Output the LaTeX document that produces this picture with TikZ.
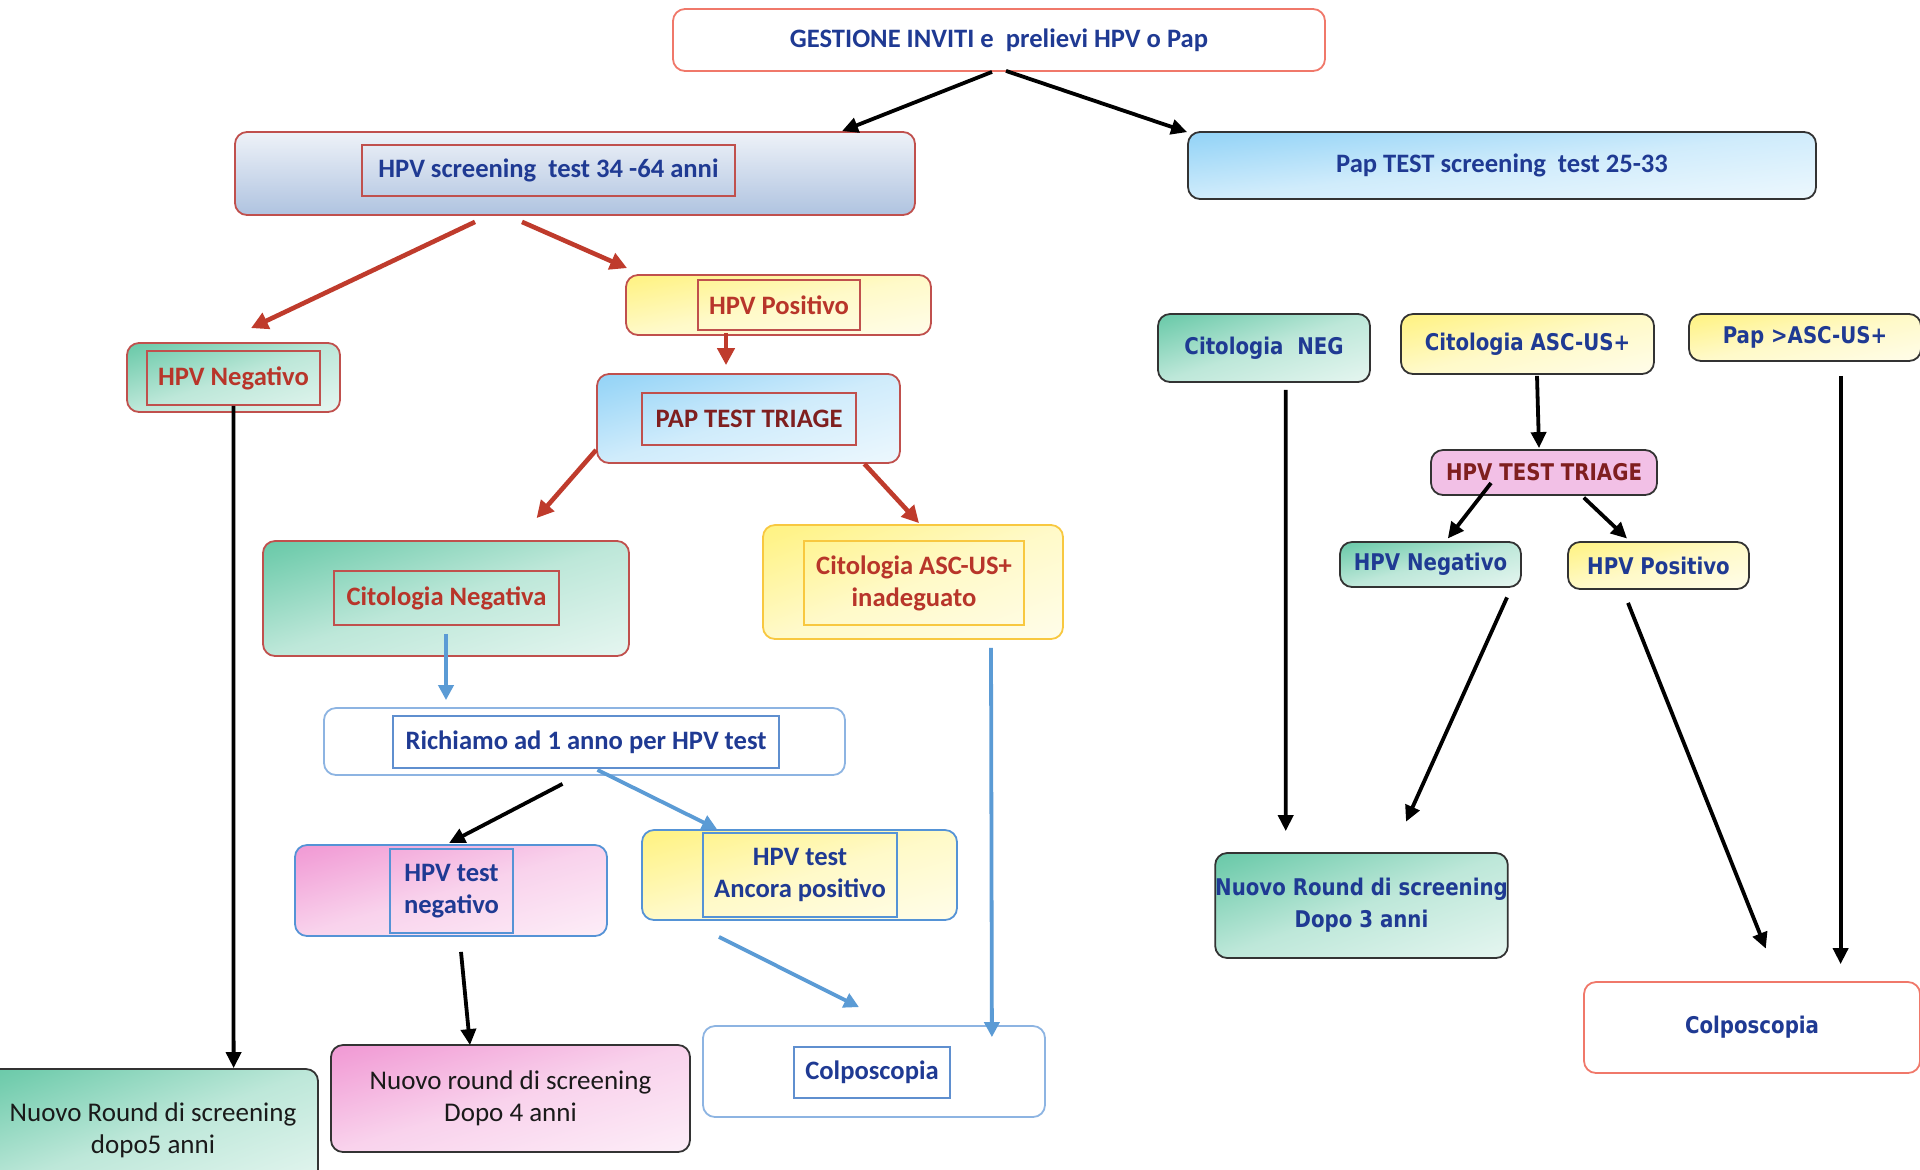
\documentclass[tikz,border=0pt]{standalone}
\usepackage{fontspec}
\setmainfont{Carlito}
\newfontfamily\tah[FakeStretch=0.86]{DejaVu Sans Bold}
\usetikzlibrary{arrows.meta}
\definecolor{tblue}{HTML}{1F3A93}
\definecolor{tred}{HTML}{B8352A}
\definecolor{tdred}{HTML}{7F1F1F}
\definecolor{bred}{HTML}{C0504D}
\definecolor{salmon}{HTML}{F0786A}
\definecolor{ared}{HTML}{BF3B2C}
\definecolor{ablue}{HTML}{5B9BD5}
\definecolor{lblue}{HTML}{8DB4E2}
\definecolor{iblue}{HTML}{5F8FCF}
\definecolor{mblue}{HTML}{5593D6}
\definecolor{gold}{HTML}{F8C840}
\definecolor{dgray}{HTML}{333333}
\definecolor{cgreen}{HTML}{4DBF98}
\definecolor{cyellow}{HTML}{FFF06A}
\definecolor{cblue}{HTML}{7FCBF5}
\definecolor{cpink}{HTML}{EE86CC}
\definecolor{hstop}{HTML}{EEF2F8}
\definecolor{hsbot}{HTML}{AFC3E0}
\definecolor{tpink}{HTML}{F2C0E6}
\definecolor{tblack}{HTML}{1A1A1A}
\colorlet{ctop}{white}
\pgfdeclareverticalshading[ctop]{soft}{100bp}{color(0bp)=(ctop!5!white); color(50bp)=(ctop!37!white); color(80bp)=(ctop!78!white); color(100bp)=(ctop)}
\newcommand\softshade{%
  \begin{scope}
  \pgftransformreset
  \pgfpointanchor{path picture bounding box}{south west}\pgfgetlastxy{\sfax}{\sfay}%
  \pgfpointanchor{path picture bounding box}{north east}\pgfgetlastxy{\sfbx}{\sfby}%
  \pgfmathsetmacro\sfw{(\sfbx-\sfax)/2}%
  \pgfmathsetmacro\sfh{(\sfby-\sfay)/2}%
  \pgfmathsetmacro\sfcx{(\sfbx+\sfax)/2}%
  \pgfmathsetmacro\sfcy{(\sfby+\sfay)/2}%
  \begin{scope}[transform canvas={cm={\sfw,0,0,\sfh,(\sfcx pt,\sfcy pt)}}]
    \pgftransformreset
    \shade[shading=soft, shading angle=45] (-1pt,-1pt) rectangle (1pt,1pt);
  \end{scope}
  \end{scope}}
\begin{document}
\begin{tikzpicture}[x=0.5pt,y=-0.5pt,
  base/.style={rounded corners=6pt, line width=0.9pt, inner sep=0pt, align=center},
  innerbox/.style={draw, line width=0.8pt, inner sep=0pt, align=center},
  lbl/.style={font=\fontsize{13.3}{16}\selectfont\bfseries},
  nlbl/.style={font=\fontsize{13.5}{16}\selectfont, text=tblack},
  rlbl/.style={font=\fontsize{11.5}{16}\selectfont\tah, text=tblue},
  soft grad/.style={path picture={\colorlet{ctop}{#1}\softshade}},
  gg/.style={soft grad=cgreen},
  gy/.style={soft grad=cyellow},
  gb/.style={soft grad=cblue},
  gp/.style={soft grad=cpink},
  ghs/.style={top color=hstop, bottom color=hsbot, middle color=hstop!50!hsbot},
  arK/.style={draw=black, line width=1.9pt, -{Triangle[length=8pt,width=7.5pt]}},
  arR/.style={draw=ared, line width=2.3pt, -{Triangle[length=8.5pt,width=8.5pt]}},
  arB/.style={draw=ablue, line width=1.9pt, -{Triangle[length=7.5pt,width=7.5pt]}}]
\useasboundingbox (0,0) rectangle (1920,1169);
\fill[white] (0,0) rectangle (1920,1169);

% ---------- top ----------
\node[base, draw=salmon, fill=white, lbl, text=tblue, minimum width=326pt, minimum height=31pt] (gest) at (999,40) {GESTIONE INVITI e~ prelievi HPV o Pap};
\node[base, draw=bred, ghs, minimum width=340pt, minimum height=41.5pt] (hpvs) at (575,173.5) {};
\node[innerbox, draw=bred, lbl, text=tblue, minimum width=186.5pt, minimum height=25.5pt] (hpvsT) at (548.5,170.5) {HPV screening~ test 34 -64 anni};
\node[base, draw=dgray, gb, lbl, text=tblue, minimum width=314pt, minimum height=33.5pt] (paps) at (1502,165.5) {Pap TEST screening~ test 25-33};

% ---------- left branch ----------
\node[base, draw=bred, gy, minimum width=152.5pt, minimum height=30pt] (hpvpos) at (778.5,305) {};
\node[innerbox, draw=bred, lbl, text=tred, minimum width=81pt, minimum height=25pt] (hpvposT) at (779,305) {HPV Positivo};
\node[base, draw=bred, gg, minimum width=106.5pt, minimum height=34.5pt] (hpvneg) at (233.5,377.5) {};
\node[innerbox, draw=bred, lbl, text=tred, minimum width=86.5pt, minimum height=27pt] (hpvnegT) at (233.5,378) {HPV Negativo};
\node[base, draw=bred, gb, minimum width=151.5pt, minimum height=44.5pt] (paptri) at (748.5,418.5) {};
\node[innerbox, draw=bred, lbl, text=tdred, minimum width=107pt, minimum height=26pt] (paptriT) at (749,419) {PAP TEST TRIAGE};
\node[base, draw=bred, gg, minimum width=183pt, minimum height=57.5pt] (citneg) at (446,598.5) {};
\node[innerbox, draw=bred, lbl, text=tred, minimum width=112.5pt, minimum height=27pt] (citnegT) at (446.5,598) {Citologia Negativa};
\node[base, draw=gold, gy, minimum width=150pt, minimum height=57pt] (citasc) at (913,582) {};
\node[innerbox, draw=gold, lbl, text=tred, minimum width=110pt, minimum height=42pt] (citascT) at (914,583) {Citologia ASC-US+\\inadeguato};
\node[base, draw=lblue, fill=white, minimum width=260.5pt, minimum height=33.5pt] (rich) at (584.5,741.5) {};
\node[innerbox, draw=iblue, lbl, text=tblue, minimum width=193pt, minimum height=26pt] (richT) at (586,742) {Richiamo ad 1 anno per HPV test};
\node[base, draw=mblue, gp, minimum width=156pt, minimum height=45.5pt] (hpvtn) at (451,890.5) {};
\node[innerbox, draw=mblue, lbl, text=tblue, minimum width=61.5pt, minimum height=42pt] (hpvtnT) at (451.5,891) {HPV test\\negativo};
\node[base, draw=mblue, gy, minimum width=157.5pt, minimum height=45pt] (hpvta) at (799.5,875) {};
\node[innerbox, draw=mblue, lbl, text=tblue, minimum width=97pt, minimum height=42pt] (hpvtaT) at (800,875) {HPV test\\Ancora positivo};
\node[base, draw=dgray, gp, nlbl, minimum width=179.5pt, minimum height=53.5pt] (nuovo4) at (510.5,1098.5) {Nuovo round di screening\\Dopo 4 anni};
\node[base, draw=lblue, fill=white, minimum width=171pt, minimum height=45.5pt] (colpl) at (874,1071.5) {};
\node[innerbox, draw=iblue, lbl, text=tblue, minimum width=78pt, minimum height=25.5pt] (colplT) at (872,1072.5) {Colposcopia};
\node[base, draw=dgray, gg, nlbl, minimum width=165pt, minimum height=61pt] (nuovo5) at (153,1130) {Nuovo Round di screening\\dopo5 anni};

% ---------- right branch ----------
\node[base, draw=dgray, gg, rlbl, minimum width=106pt, minimum height=34pt] (citNEG) at (1264,348) {Citologia~~NEG};
\node[base, draw=dgray, gy, rlbl, minimum width=126.5pt, minimum height=30pt] (citASC) at (1527.5,344) {Citologia ASC-US+};
\node[base, draw=dgray, gy, rlbl, minimum width=116pt, minimum height=23.5pt] (papasc) at (1805,337.5) {Pap >ASC-US+};
\node[base, draw=dgray, fill=tpink, rlbl, text=tdred, minimum width=113pt, minimum height=22.5pt] (hpvtt) at (1544,472.5) {HPV TEST TRIAGE};
\node[base, draw=dgray, gg, rlbl, minimum width=90.5pt, minimum height=22.5pt] (hpvnr) at (1430.5,564.5) {HPV Negativo};
\node[base, draw=dgray, gy, rlbl, minimum width=90.5pt, minimum height=23.5pt] (hpvpr) at (1658.5,565.5) {HPV Positivo};
\node[base, draw=dgray, gg, rlbl, minimum width=143.5pt, minimum height=52.5pt] (nuovo3) at (1361.5,905.5) {Nuovo Round di screening\\Dopo 3 anni};
\node[base, draw=salmon, fill=white, rlbl, minimum width=168pt, minimum height=45.5pt] (colpr) at (1752,1027.5) {Colposcopia};

% ---------- connectors ----------
\draw[arK] ([shift={(-7,0)}]gest.south) -- ([shift={(267,0)}]hpvs.north);
\draw[arK] ([shift={(7,-1)}]gest.south) -- ([shift={(0,1)}]paps.north west);
\draw[arR] ([shift={(-100,6)}]hpvs.south) -- ([shift={(17.5,-14)}]hpvneg.north);
\draw[arR] ([shift={(-53,6)}]hpvs.south) -- ([shift={(2,-6)}]hpvpos.north west);
\draw[arR] ([shift={(-52.5,-3)}]hpvpos.south) -- ([shift={(-22.5,-8)}]paptri.north);
\draw[arR] ([shift={(0,31.5)}]paptri.west) -- ([shift={(90.6,-22)}]citneg.north);
\draw[arR] ([shift={(-36.5,0)}]paptri.south east) -- ([shift={(6,-1)}]citasc.north);
\draw[arB] ([shift={(0,-23)}]citneg.south) -- ([shift={(-138.5,-7)}]rich.north);
\draw[arK] ([shift={(-22,8)}]rich.south) -- ([shift={(-2,-1)}]hpvtn.north);
\draw[arB] ([shift={(13,-6)}]rich.south) -- ([shift={(-82.5,0)}]hpvta.north);
\draw[arK] ([shift={(10,15)}]hpvtn.south) -- ([shift={(-40.5,1)}]nuovo4.north);
\draw[arB] ([shift={(-80.5,16)}]hpvta.south) -- ([shift={(-15,-18)}]colpl.north);
\draw[arB] ([shift={(78,8)}]citasc.south) -- ([shift={(-54,12)}]colpl.north east);
\draw[arK] ([shift={(0,-7)}]hpvneg.south) -- ([shift={(80.6,0)}]nuovo5.north);

\draw[arK] ([shift={(21.7,7)}]citNEG.south) -- ([shift={(-75.8,-21)}]nuovo3.north);
\draw[arK] ([shift={(9.5,1)}]citASC.south) -- ([shift={(-5,-1)}]hpvtt.north);
\draw[arK] ([shift={(35.6,14)}]papasc.south) -- ([shift={(88.6,-17)}]colpr.north);
\draw[arK] ([shift={(-53,10.5)}]hpvtt.center) -- ([shift={(17.3,-2.6)}]hpvnr.north);
\draw[arK] ([shift={(39.8,1.7)}]hpvtt.south) -- ([shift={(-31.5,-2.6)}]hpvpr.north);
\draw[arK] ([shift={(76.5,9.5)}]hpvnr.south) -- ([shift={(44.5,-30.4)}]nuovo3.north);
\draw[arK] ([shift={(-30.5,13)}]hpvpr.south) -- ([shift={(13.8,-32.5)}]colpr.north);
\end{tikzpicture}
\end{document}
